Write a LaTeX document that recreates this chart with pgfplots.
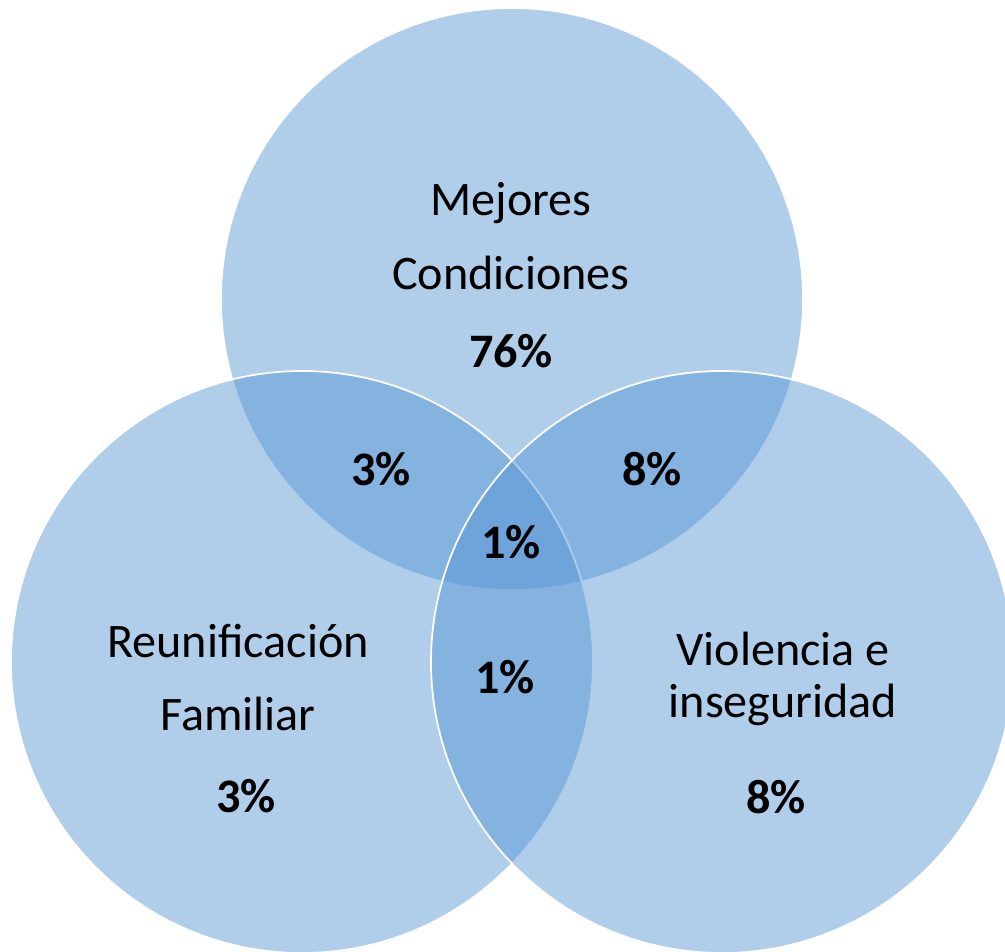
\documentclass[border=0pt]{standalone}
\usepackage{pgfplots}
\pgfplotsset{compat=1.18}
\usepackage{fontspec}
\setmainfont{Carlito}
\definecolor{venn}{RGB}{82,147,210}
\begin{document}
\begin{tikzpicture}
\begin{axis}[
    width=10.05cm, height=9.51cm,
    scale only axis,
    xmin=0, xmax=1005, ymin=0, ymax=951,
    hide axis,
    clip=true,
    set layers,
]
% circle centres (pixel grid, y measured from the bottom)
\addplot[only marks, mark=*, mark size=82.8pt,
    mark options={fill=venn, fill opacity=0.46, draw=white, draw opacity=1, line width=0.5pt}]
    coordinates {(512,652) (302,289) (722,289)};

\tikzset{lbl/.style={anchor=base, inner sep=0pt, text=black, font=\fontsize{13.7}{16}\selectfont},
         pct/.style={lbl, font=\fontsize{13.7}{16}\selectfont\bfseries}}
\begin{pgfonlayer}{axis foreground}
\node[lbl] at (axis cs:511,736) {Mejores};
\node[lbl] at (axis cs:511,662) {Condiciones};
\node[pct] at (axis cs:511,584) {76\%};
\node[pct] at (axis cs:381,466) {3\%};
\node[pct] at (axis cs:652,466) {8\%};
\node[pct] at (axis cs:511,393) {1\%};
\node[pct] at (axis cs:505,258) {1\%};
\node[lbl] at (axis cs:238,294) {Reunificación};
\node[lbl] at (axis cs:238,221) {Familiar};
\node[pct] at (axis cs:246,139) {3\%};
\node[lbl] at (axis cs:783,286) {Violencia e};
\node[lbl] at (axis cs:783,234) {inseguridad};
\node[pct] at (axis cs:776,138) {8\%};
\end{pgfonlayer}
\end{axis}
\pgfresetboundingbox
\path (current axis.south west) rectangle (current axis.north east);
\end{tikzpicture}
\end{document}
